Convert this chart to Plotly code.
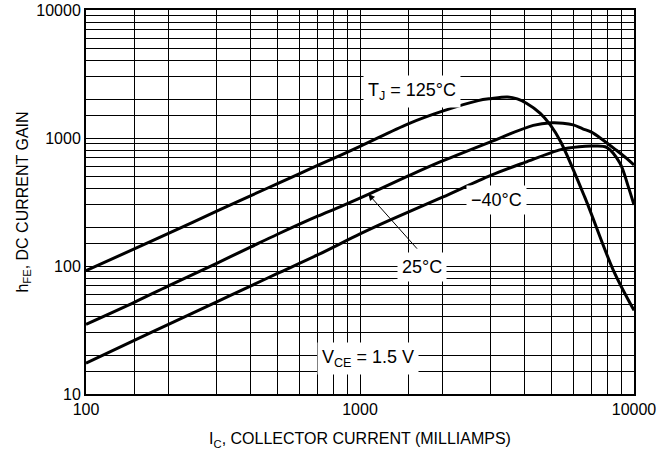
import numpy as np
import plotly.graph_objects as go

# Collector current (mA) and DC current gain for each junction temperature
x_125 = [100, 150, 200, 300, 400, 500, 700, 1000, 1500, 2000, 2700, 3000, 3450, 3750, 4050, 4550, 4950, 5400, 6600, 8400, 10000]
y_125 = [92, 136, 180, 268, 355, 440, 610, 860, 1290, 1620, 1960, 2030, 2090, 2020, 1870, 1560, 1265, 935, 348, 93, 45]

x_25 = [100, 150, 200, 300, 400, 500, 700, 845, 1087, 1500, 1960, 2980, 4290, 5000, 5500, 6000, 6500, 7000, 7700, 8600, 9400, 10000]
y_25 = [35, 52, 70, 105, 141, 177, 245, 290, 368, 505, 650, 930, 1255, 1315, 1305, 1265, 1180, 1110, 964, 805, 693, 615]

x_m40 = [100, 150, 200, 300, 400, 500, 700, 1000, 1285, 2000, 3000, 4000, 5400, 6300, 7100, 7950, 8890, 9530, 10000]
y_m40 = [17.4, 26.2, 35, 52.5, 70, 87.5, 122, 178, 228, 345, 510, 645, 812, 855, 865, 845, 634, 417, 300]

# Axis ticks
x_ticks = [100, 1000, 10000]
y_ticks = [10, 100, 1000, 10000]
grid_mult = [1.5, 2, 3, 4, 5, 6, 7, 8, 9]
x_minor = [m * d for d in (100, 1000) for m in grid_mult]
y_minor = [m * d for d in (10, 100, 1000) for m in grid_mult]

FONT = "Liberation Sans, Arial, sans-serif"

fig = go.Figure()
for xs, ys in ((x_125, y_125), (x_25, y_25), (x_m40, y_m40)):
    fig.add_trace(go.Scatter(x=xs, y=ys, mode="lines",
                             line=dict(color="black", width=3, shape="spline", smoothing=0.9),
                             showlegend=False, hoverinfo="skip"))

axis_common = dict(
    type="log", showgrid=True, gridcolor="black", gridwidth=1,
    showline=True, linecolor="black", linewidth=2, mirror=True,
    ticks="", zeroline=False, automargin=False,
    tickfont=dict(family=FONT, size=16, color="black"),
)

fig.update_xaxes(
    **axis_common,
    range=[2, 4],
    tickmode="array", tickvals=x_ticks, ticktext=[str(v) for v in x_ticks],
    minor=dict(tickmode="array", tickvals=x_minor, showgrid=True,
               gridcolor="black", gridwidth=1, ticks=""),
    title=dict(text="I<sub>C</sub>, COLLECTOR CURRENT (MILLIAMPS)",
               font=dict(family=FONT, size=16, color="black"), standoff=16),
)
fig.update_yaxes(
    **axis_common,
    range=[1, 4],
    tickmode="array", tickvals=y_ticks, ticktext=[str(v) for v in y_ticks],
    minor=dict(tickmode="array", tickvals=y_minor, showgrid=True,
               gridcolor="black", gridwidth=1, ticks=""),
    title=dict(text="h<sub>FE</sub>, DC CURRENT GAIN",
               font=dict(family=FONT, size=16, color="black"), standoff=4),
)

labels = [
    ("T<sub>J</sub> = 125°C", 1545, 2300),
    ("−40°C", 3155, 328),
    ("25°C", 1680, 98),
    ("V<sub>CE</sub> = 1.5 V", 1070, 18.8),
]
for text, lx, ly in labels:
    fig.add_annotation(x=np.log10(lx), y=np.log10(ly), xref="x", yref="y",
                       text=text, showarrow=False, bgcolor="white", borderpad=4,
                       font=dict(family=FONT, size=18, color="black"))

# arrow from the 25°C label to its curve
fig.add_annotation(x=np.log10(1072), y=np.log10(365), xref="x", yref="y",
                   ax=np.log10(1633), ay=np.log10(133), axref="x", ayref="y",
                   text="", showarrow=True, arrowhead=2, arrowsize=1.3,
                   arrowwidth=1, arrowcolor="black")

fig.update_layout(
    width=662, height=461,
    margin=dict(l=86, r=28, t=10, b=67),
    plot_bgcolor="white", paper_bgcolor="white",
    font=dict(family=FONT, size=16, color="black"),
)

fig.write_html("out.html", config={"displayModeBar": False},
               post_script="document.body.style.margin='0';document.body.style.overflow='hidden';")
